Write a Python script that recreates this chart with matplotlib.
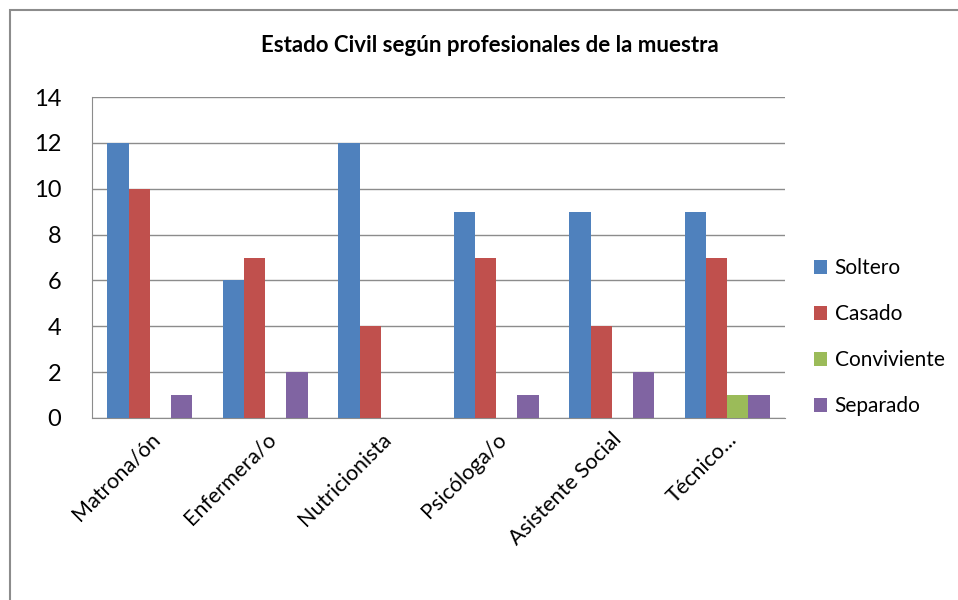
import matplotlib.pyplot as plt
import numpy as np
from matplotlib.patches import Rectangle

plt.rcParams['font.family'] = ['Lato', 'DejaVu Sans']

categories = ['Matrona/ón', 'Enfermera/o', 'Nutricionista', 'Psicóloga/o',
              'Asistente Social', 'Técnico...']
series_names = ['Soltero', 'Casado', 'Conviviente', 'Separado']
soltero = [12, 6, 12, 9, 9, 9]
casado = [10, 7, 4, 7, 4, 7]
conviviente = [0, 0, 0, 0, 0, 1]
separado = [1, 2, 0, 1, 2, 1]
colors = ['#4F81BD', '#C0504D', '#9BBB59', '#8064A2']

fig = plt.figure(figsize=(9.58, 6.0), dpi=100)
# outer chart border
fig.patches.append(Rectangle((10 / 958, -0.1), 1.1, 590 / 600 + 0.1,
                             transform=fig.transFigure, fill=False,
                             edgecolor='#8c8c8c', linewidth=1.5))
ax = fig.add_axes([92 / 958, (600 - 418) / 600, (785 - 92) / 958, (418 - 97) / 600])

x = np.arange(len(categories))
w = 0.183
for i, (vals, name) in enumerate(zip([soltero, casado, conviviente, separado], series_names)):
    ax.bar(x + (i - 1.5) * w, vals, width=w, color=colors[i], label=name, zorder=3)

ax.set_xlim(-0.5, len(categories) - 0.5)
ax.set_ylim(0, 14)
ax.set_yticks(range(0, 15, 2))
ax.grid(axis='y', color='#8c8c8c', linewidth=1, zorder=0)
ax.set_xticks(x)
ax.set_xticklabels(categories, rotation=45, ha='right', rotation_mode='anchor', fontsize=15.5)
ax.tick_params(axis='y', labelsize=17, length=0, pad=22)
ax.tick_params(axis='x', length=0, pad=8)
for s in ['top', 'right']:
    ax.spines[s].set_visible(False)
for s in ['left', 'bottom']:
    ax.spines[s].set_color('#8c8c8c')

fig.text(490 / 958, 1 - 46 / 600, 'Estado Civil según profesionales de la muestra',
         ha='center', va='center', fontsize=16, fontweight='bold')

fig.legend(loc='center left', bbox_to_anchor=(795 / 958, 1 - 337 / 600), frameon=False,
           fontsize=15, handlelength=0.65, handleheight=0.65, handletextpad=0.35,
           labelspacing=1.25)

fig.savefig('out.png', dpi=100)
